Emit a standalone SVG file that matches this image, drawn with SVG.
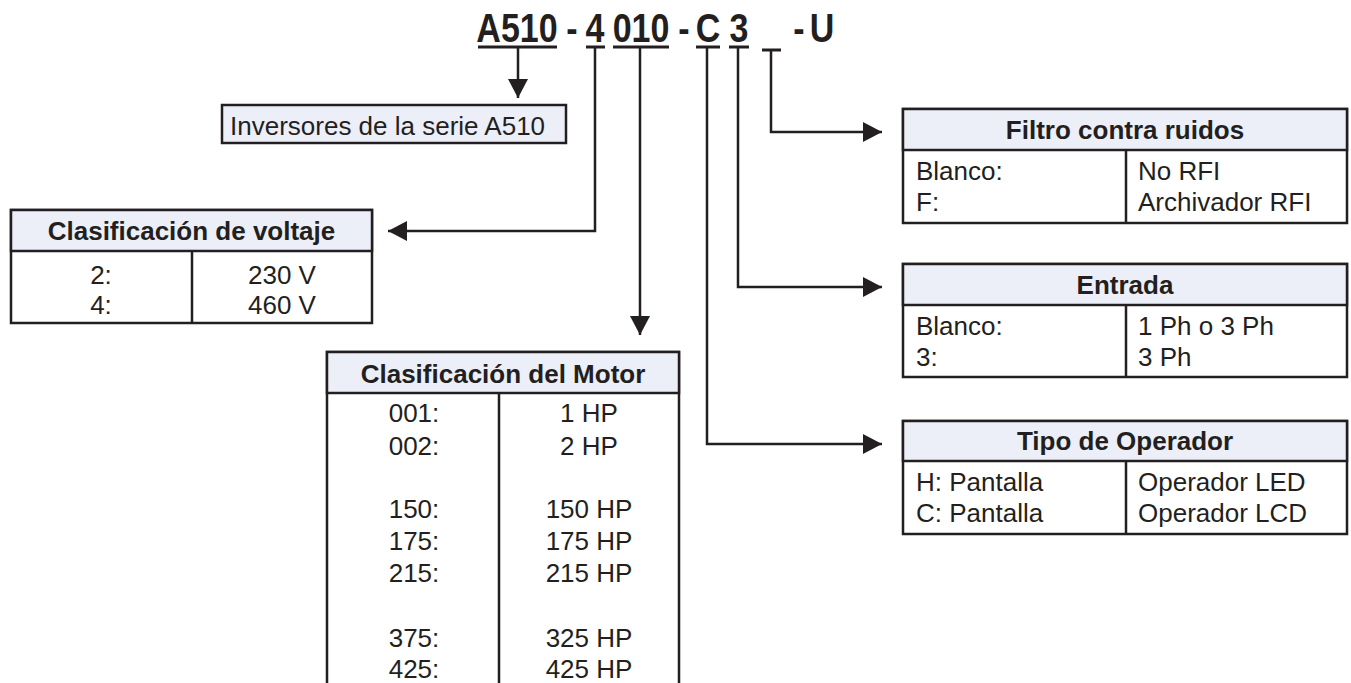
<svg xmlns="http://www.w3.org/2000/svg" width="1351" height="683" viewBox="0 0 1351 683">
<defs>
<style>
.bg{fill:#ffffff}
.title{font-family:"Liberation Sans",Arial,sans-serif;font-weight:bold;font-size:40px;fill:#231F20}
.ul{stroke:#231F20;stroke-width:3;fill:none}
.conn{stroke:#231F20;stroke-width:2.5;fill:none}
.box{fill:#ffffff;stroke:#231F20;stroke-width:2.5}
.hdr{fill:#ECEFF8;stroke:#231F20;stroke-width:2.5}
.div{stroke:#231F20;stroke-width:2.5}
.ht{font-family:"Liberation Sans",Arial,sans-serif;font-weight:bold;font-size:26px;fill:#231F20;text-anchor:middle}
.bt{font-family:"Liberation Sans",Arial,sans-serif;font-size:26px;fill:#231F20}
.c{text-anchor:middle}
</style>
<marker id="arr" markerUnits="userSpaceOnUse" viewBox="0 0 19 20" refX="19" refY="10" markerWidth="19" markerHeight="20" orient="auto">
<path d="M0,0 L19,10 L0,20 Z" fill="#231F20"/>
</marker>
</defs>
<rect class="bg" x="0" y="0" width="1351" height="683"/>

<g id="model-code">
<text class="title" text-anchor="middle" transform="translate(517,42) scale(0.85,1)">A510</text>
<text class="title" text-anchor="middle" transform="translate(572,42) scale(0.85,1)">-</text>
<text class="title" text-anchor="middle" transform="translate(595,42) scale(0.85,1)">4</text>
<text class="title" text-anchor="middle" transform="translate(641,42) scale(0.85,1)">010</text>
<text class="title" text-anchor="middle" transform="translate(684,42) scale(0.85,1)">-</text>
<text class="title" text-anchor="middle" transform="translate(708,42) scale(0.85,1)">C</text>
<text class="title" text-anchor="middle" transform="translate(739,42) scale(0.85,1)">3</text>
<text class="title" text-anchor="middle" transform="translate(799,42) scale(0.85,1)">-</text>
<text class="title" text-anchor="middle" transform="translate(822,42) scale(0.85,1)">U</text>
<line class="ul" x1="478" y1="47" x2="557" y2="47"/>
<line class="ul" x1="586" y1="47" x2="605" y2="47"/>
<line class="ul" x1="613" y1="47" x2="669" y2="47"/>
<line class="ul" x1="696" y1="47" x2="720" y2="47"/>
<line class="ul" x1="729" y1="47" x2="749" y2="47"/>
<line class="ul" x1="762" y1="50" x2="781" y2="50"/>
</g>

<g id="connectors">
<path class="conn" d="M518,47 V98" marker-end="url(#arr)"/>
<path class="conn" d="M595,47 V231 H388" marker-end="url(#arr)"/>
<path class="conn" d="M640,47 V335" marker-end="url(#arr)"/>
<path class="conn" d="M771,50 V132 H882" marker-end="url(#arr)"/>
<path class="conn" d="M738,47 V287 H882" marker-end="url(#arr)"/>
<path class="conn" d="M707,47 V444 H882" marker-end="url(#arr)"/>
</g>

<g id="series">
<rect class="hdr" x="222" y="105" width="344" height="38"/>
<text class="bt" x="230" y="135">Inversores de la serie A510</text>
</g>

<g id="voltage">
<rect class="box" x="11" y="210" width="361" height="113"/>
<rect class="hdr" x="11" y="210" width="361" height="41"/>
<line class="div" x1="192" y1="251" x2="192" y2="323"/>
<text class="ht" x="191.5" y="240">Clasificación de voltaje</text>
<text class="bt c" x="101" y="284">2:</text>
<text class="bt c" x="101" y="314">4:</text>
<text class="bt c" x="282" y="284">230 V</text>
<text class="bt c" x="282" y="314">460 V</text>
</g>

<g id="motor">
<rect class="box" x="327" y="352" width="352" height="360"/>
<rect class="hdr" x="327" y="352" width="352" height="41"/>
<line class="div" x1="499" y1="393" x2="499" y2="700"/>
<text class="ht" x="503" y="383">Clasificación del Motor</text>
<text class="bt c" x="414" y="422">001:</text>
<text class="bt c" x="414" y="455">002:</text>
<text class="bt c" x="414" y="518">150:</text>
<text class="bt c" x="414" y="550">175:</text>
<text class="bt c" x="414" y="582">215:</text>
<text class="bt c" x="414" y="647">375:</text>
<text class="bt c" x="414" y="678">425:</text>
<text class="bt c" x="589" y="422">1 HP</text>
<text class="bt c" x="589" y="455">2 HP</text>
<text class="bt c" x="589" y="518">150 HP</text>
<text class="bt c" x="589" y="550">175 HP</text>
<text class="bt c" x="589" y="582">215 HP</text>
<text class="bt c" x="589" y="647">325 HP</text>
<text class="bt c" x="589" y="678">425 HP</text>
</g>

<g id="filtro">
<rect class="box" x="903" y="109" width="444" height="114"/>
<rect class="hdr" x="903" y="109" width="444" height="41"/>
<line class="div" x1="1126" y1="150" x2="1126" y2="223"/>
<text class="ht" x="1125" y="139">Filtro contra ruidos</text>
<text class="bt" x="916" y="180">Blanco:</text>
<text class="bt" x="916" y="211">F:</text>
<text class="bt" x="1138" y="180">No RFI</text>
<text class="bt" x="1138" y="211">Archivador RFI</text>
</g>

<g id="entrada">
<rect class="box" x="903" y="264" width="444" height="113"/>
<rect class="hdr" x="903" y="264" width="444" height="41"/>
<line class="div" x1="1126" y1="305" x2="1126" y2="377"/>
<text class="ht" x="1125" y="294">Entrada</text>
<text class="bt" x="916" y="335">Blanco:</text>
<text class="bt" x="916" y="366">3:</text>
<text class="bt" x="1138" y="335">1 Ph o 3 Ph</text>
<text class="bt" x="1138" y="366">3 Ph</text>
</g>

<g id="operador">
<rect class="box" x="903" y="421" width="444" height="113"/>
<rect class="hdr" x="903" y="421" width="444" height="40"/>
<line class="div" x1="1126" y1="461" x2="1126" y2="534"/>
<text class="ht" x="1125" y="450">Tipo de Operador</text>
<text class="bt" x="916" y="491">H: Pantalla</text>
<text class="bt" x="916" y="522">C: Pantalla</text>
<text class="bt" x="1138" y="491">Operador LED</text>
<text class="bt" x="1138" y="522">Operador LCD</text>
</g>
</svg>
